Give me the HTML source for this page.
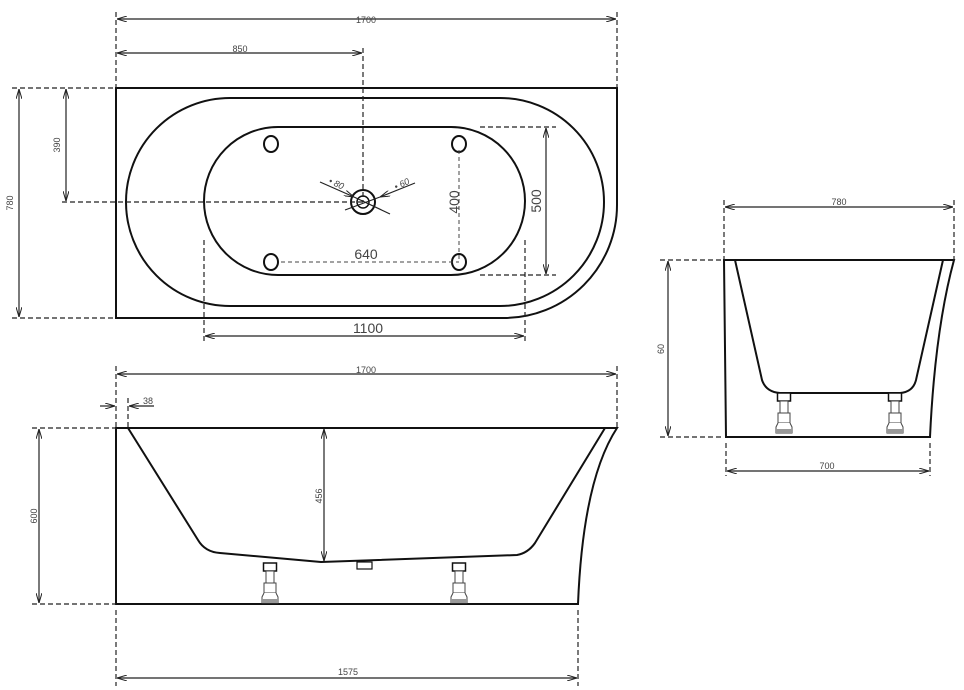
<!DOCTYPE html>
<html><head><meta charset="utf-8"><style>
html,body{margin:0;padding:0;background:#fff;}
svg{display:block}
text{font-family:"Liberation Sans",sans-serif;fill:#444}
</style></head><body>
<svg width="964" height="690" viewBox="0 0 964 690" xmlns="http://www.w3.org/2000/svg">
<defs>
<marker id="a" markerWidth="10" markerHeight="6" refX="10" refY="3" orient="auto-start-reverse" markerUnits="userSpaceOnUse"><path d="M0,0 L10,3 L0,6" fill="none" stroke="#222" stroke-width="1"/></marker>
<g id="leg">
<rect x="-6.5" y="0" width="13" height="8" fill="#fff" stroke="#111" stroke-width="1.5"/>
<rect x="-4" y="8" width="8" height="12" fill="#fff" stroke="#444" stroke-width="1"/>
<rect x="-6" y="20" width="12" height="10" fill="#fff" stroke="#444" stroke-width="1"/>
<path d="M-6,30 L-8,34 L-8,40 L8,40 L8,34 L6,30" fill="#fff" stroke="#444" stroke-width="1"/>
<rect x="-8" y="36" width="16" height="4" fill="#999"/>
</g>
</defs>

<!-- TOP VIEW -->
<g fill="none" stroke="#111" stroke-width="2">
<path d="M116,88 L617,88 L617,205 A113,113 0 0 1 504,318 L116,318 Z"/>
<rect x="126" y="98" width="478" height="208" rx="104" ry="104"/>
<rect x="204" y="127" width="321" height="148" rx="74" ry="74"/>
<circle cx="363" cy="202" r="12"/>
<circle cx="363" cy="202" r="6" stroke-width="1.5"/>
<ellipse cx="271" cy="144" rx="7" ry="8"/>
<ellipse cx="459" cy="144" rx="7" ry="8"/>
<ellipse cx="271" cy="262" rx="7" ry="8"/>
<ellipse cx="459" cy="262" rx="7" ry="8"/>
</g>
<g fill="none" stroke="#222" stroke-width="1.2" stroke-dasharray="5,3">
<line x1="116" y1="12" x2="116" y2="88"/>
<line x1="617" y1="12" x2="617" y2="88"/>
<line x1="363" y1="48" x2="363" y2="202"/>
<line x1="12" y1="88" x2="116" y2="88"/>
<line x1="12" y1="318" x2="116" y2="318"/>
<line x1="62" y1="202" x2="363" y2="202"/>
<line x1="480" y1="127" x2="556" y2="127"/>
<line x1="480" y1="275" x2="556" y2="275"/>
<line x1="204" y1="240" x2="204" y2="344"/>
<line x1="525" y1="240" x2="525" y2="344"/>
</g>
<g fill="none" stroke="#444" stroke-width="1" stroke-dasharray="4,3">
<line x1="459" y1="150" x2="459" y2="262"/>
<line x1="281" y1="262" x2="459" y2="262"/>
</g>
<g stroke="#222" stroke-width="1.2" fill="none">
<line x1="117" y1="19" x2="616" y2="19" marker-start="url(#a)" marker-end="url(#a)"/>
<line x1="117" y1="53" x2="362" y2="53" marker-start="url(#a)" marker-end="url(#a)"/>
<line x1="19" y1="89" x2="19" y2="317" marker-start="url(#a)" marker-end="url(#a)"/>
<line x1="66" y1="89" x2="66" y2="201" marker-start="url(#a)" marker-end="url(#a)"/>
<line x1="546" y1="128" x2="546" y2="274" marker-start="url(#a)" marker-end="url(#a)"/>
<line x1="205" y1="336" x2="524" y2="336" marker-start="url(#a)" marker-end="url(#a)"/>
<line x1="320" y1="182" x2="354" y2="197" marker-end="url(#a)"/>
<line x1="354" y1="197" x2="390" y2="214"/>
<line x1="415" y1="183" x2="380" y2="197" marker-end="url(#a)"/>
<line x1="380" y1="197" x2="345" y2="210"/>
</g>
<text x="366" y="23" font-size="9" text-anchor="middle">1700</text>
<text x="240" y="52" font-size="9" text-anchor="middle">850</text>
<text transform="translate(13,203) rotate(-90)" font-size="9" text-anchor="middle">780</text>
<text transform="translate(60,145) rotate(-90)" font-size="9" text-anchor="middle">390</text>
<text transform="translate(541,201) rotate(-90)" font-size="14" text-anchor="middle" fill="#111">500</text>
<text transform="translate(459,202) rotate(-90)" font-size="14" text-anchor="middle" fill="#111">400</text>
<text x="366" y="259" font-size="14" text-anchor="middle" fill="#111">640</text>
<text x="368" y="333" font-size="14" text-anchor="middle" fill="#111">1100</text>
<text transform="translate(328,183) rotate(25)" font-size="9" font-style="italic">• 80</text>
<text transform="translate(396,190) rotate(-25)" font-size="9" font-style="italic">• 60</text>

<!-- SIDE VIEW -->
<g fill="none" stroke="#111" stroke-width="2">
<path d="M116,428 L617,428 Q583,480 578,604 L116,604 Z"/>
<path d="M128,428 L198,540 Q205,552 220,553 L321,562 L517,555 Q528,553 535,543 L605,428"/>
<rect x="357" y="562" width="15" height="7" stroke-width="1.2"/>
</g>
<use href="#leg" x="270" y="563"/>
<use href="#leg" x="459" y="563"/>
<g fill="none" stroke="#222" stroke-width="1.2" stroke-dasharray="5,3">
<line x1="116" y1="366" x2="116" y2="428"/>
<line x1="617" y1="366" x2="617" y2="428"/>
<line x1="128" y1="398" x2="128" y2="428"/>
<line x1="32" y1="428" x2="116" y2="428"/>
<line x1="32" y1="604" x2="116" y2="604"/>
<line x1="116" y1="610" x2="116" y2="686"/>
<line x1="578" y1="610" x2="578" y2="686"/>
</g>
<g stroke="#222" stroke-width="1.2" fill="none">
<line x1="117" y1="374" x2="616" y2="374" marker-start="url(#a)" marker-end="url(#a)"/>
<line x1="100" y1="406" x2="115" y2="406" marker-end="url(#a)"/>
<line x1="154" y1="406" x2="129" y2="406" marker-end="url(#a)"/>
<line x1="39" y1="429" x2="39" y2="603" marker-start="url(#a)" marker-end="url(#a)"/>
<line x1="324" y1="429" x2="324" y2="561" marker-start="url(#a)" marker-end="url(#a)"/>
<line x1="117" y1="678" x2="577" y2="678" marker-start="url(#a)" marker-end="url(#a)"/>
</g>
<text x="366" y="373" font-size="9" text-anchor="middle">1700</text>
<text x="148" y="404" font-size="9" text-anchor="middle">38</text>
<text transform="translate(37,516) rotate(-90)" font-size="9" text-anchor="middle">600</text>
<text transform="translate(322,496) rotate(-90)" font-size="9" text-anchor="middle">456</text>
<text x="348" y="675" font-size="9" text-anchor="middle">1575</text>

<!-- END VIEW -->
<g fill="none" stroke="#111" stroke-width="2">
<path d="M724,260 L954,260 Q935,330 930,437 L726,437 Z"/>
<path d="M735,260 L762,380 Q766,392 780,393 L900,393 Q913,392 916,380 L943,260"/>
</g>
<use href="#leg" x="784" y="393"/>
<use href="#leg" x="895" y="393"/>
<g fill="none" stroke="#222" stroke-width="1.2" stroke-dasharray="5,3">
<line x1="724" y1="200" x2="724" y2="260"/>
<line x1="954" y1="200" x2="954" y2="260"/>
<line x1="660" y1="260" x2="724" y2="260"/>
<line x1="660" y1="437" x2="724" y2="437"/>
<line x1="726" y1="443" x2="726" y2="476"/>
<line x1="930" y1="443" x2="930" y2="476"/>
</g>
<g stroke="#222" stroke-width="1.2" fill="none">
<line x1="725" y1="207" x2="953" y2="207" marker-start="url(#a)" marker-end="url(#a)"/>
<line x1="668" y1="261" x2="668" y2="436" marker-start="url(#a)" marker-end="url(#a)"/>
<line x1="727" y1="471" x2="929" y2="471" marker-start="url(#a)" marker-end="url(#a)"/>
</g>
<text x="839" y="205" font-size="9" text-anchor="middle">780</text>
<text transform="translate(664,349) rotate(-90)" font-size="9" text-anchor="middle">60</text>
<text x="827" y="469" font-size="9" text-anchor="middle">700</text>
</svg>
</body></html>
